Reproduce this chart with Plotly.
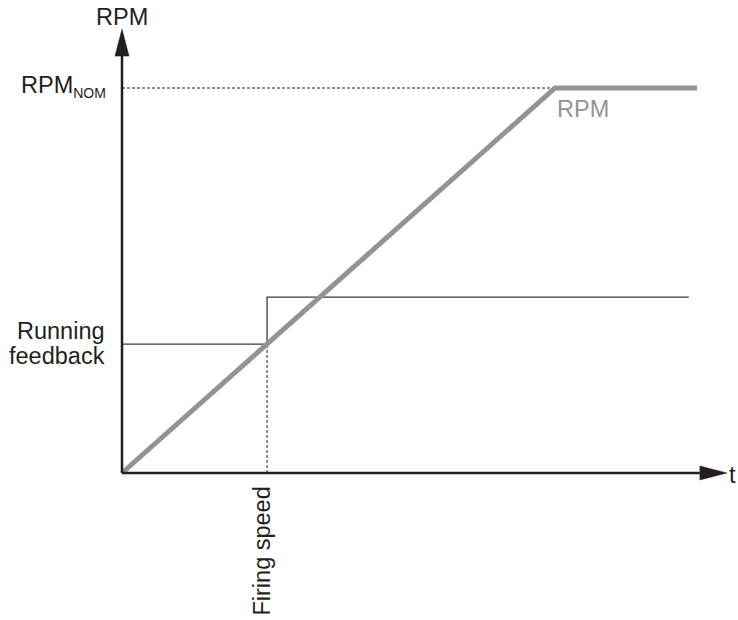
import plotly.graph_objects as go

# time axis (arbitrary units, ramp reaches nominal speed at t=100)
t_rpm = [0, 100, 132.8]
rpm = [0, 100, 100]
rpm_nom = 100

firing_t = 33.5
fb_t = [0, 33.5, 33.5, 130.9]
fb_level = [33.5, 33.5, 45.7, 45.7]

t_tip = 139.7      # x axis arrow tip
rpm_tip = 115.3    # y axis arrow tip

# pixel scale of the drawing (px per data unit)
sx, sy = 4.33, 3.85
head_len, head_half = 27, 7

ink = '#231f20'
grey = '#939393'
font = 'Liberation Sans, Arial, sans-serif'

fig = go.Figure()

# dotted guides
fig.add_trace(go.Scatter(x=[0, t_rpm[1]], y=[rpm_nom, rpm_nom], mode='lines',
                         line=dict(color=ink, width=1, dash='3px,2px')))
fig.add_trace(go.Scatter(x=[firing_t, firing_t], y=[0, fb_level[0]], mode='lines',
                         line=dict(color=ink, width=1, dash='3px,2px')))

# running feedback step
fig.add_trace(go.Scatter(x=fb_t, y=fb_level, mode='lines',
                         line=dict(color='#3a3a3a', width=1.3)))

# RPM ramp
fig.add_trace(go.Scatter(x=t_rpm, y=rpm, mode='lines',
                         line=dict(color=grey, width=5)))

# axes with arrowheads
fig.add_trace(go.Scatter(x=[0, t_tip - head_len / sx], y=[0, 0], mode='lines',
                         line=dict(color=ink, width=2.5)))
fig.add_trace(go.Scatter(x=[0, 0], y=[0, rpm_tip - head_len / sy], mode='lines',
                         line=dict(color=ink, width=2.5)))
fig.add_trace(go.Scatter(x=[t_tip, t_tip - head_len / sx, t_tip - head_len / sx, t_tip],
                         y=[0, head_half / sy, -head_half / sy, 0],
                         mode='lines', fill='toself', fillcolor=ink, line=dict(color=ink, width=0.5)))
fig.add_trace(go.Scatter(x=[0, head_half / sx, -head_half / sx, 0],
                         y=[rpm_tip, rpm_tip - head_len / sy, rpm_tip - head_len / sy, rpm_tip],
                         mode='lines', fill='toself', fillcolor=ink, line=dict(color=ink, width=0.5)))

fs = 23.5
ann = [
    dict(x=0, y=rpm_tip, text='RPM', xanchor='center', yanchor='bottom', yshift=-3),
    dict(x=0, y=rpm_nom, text='RPM<sub><span style="font-size:14px">NOM</span></sub>',
         xanchor='right', yanchor='middle', xshift=-14, yshift=2),
    dict(x=0, y=fb_level[0], text='Running', xanchor='right', yanchor='middle',
         xshift=-15, yshift=13),
    dict(x=0, y=fb_level[0], text='feedback', xanchor='right', yanchor='middle',
         xshift=-15, yshift=-12),
    dict(x=t_rpm[1], y=rpm_nom, text='RPM', xanchor='left', yanchor='middle',
         xshift=0, yshift=-21, font=dict(color=grey, size=fs, family=font)),
    dict(x=t_tip, y=0, text='t', xanchor='left', yanchor='middle', xshift=0, yshift=-2),
    dict(x=firing_t, y=0, text='Firing speed', textangle=-90, xanchor='center',
         yanchor='top', xshift=-6, yshift=-12),
]
for a in ann:
    a.setdefault('font', dict(color=ink, size=fs, family=font))
    a['showarrow'] = False
    a['xref'] = 'x'
    a['yref'] = 'y'

fig.update_layout(
    width=738, height=620,
    margin=dict(l=0, r=0, t=0, b=0),
    paper_bgcolor='white', plot_bgcolor='white',
    showlegend=False,
    annotations=ann,
    xaxis=dict(range=[-122 / sx, (738 - 122) / sx], visible=False, fixedrange=True),
    yaxis=dict(range=[-(620 - 473) / sy, 473 / sy], visible=False, fixedrange=True),
)

fig.write_html('out.html', config={'displayModeBar': False},
               post_script="document.body.style.margin='0';document.body.style.overflow='hidden';")
